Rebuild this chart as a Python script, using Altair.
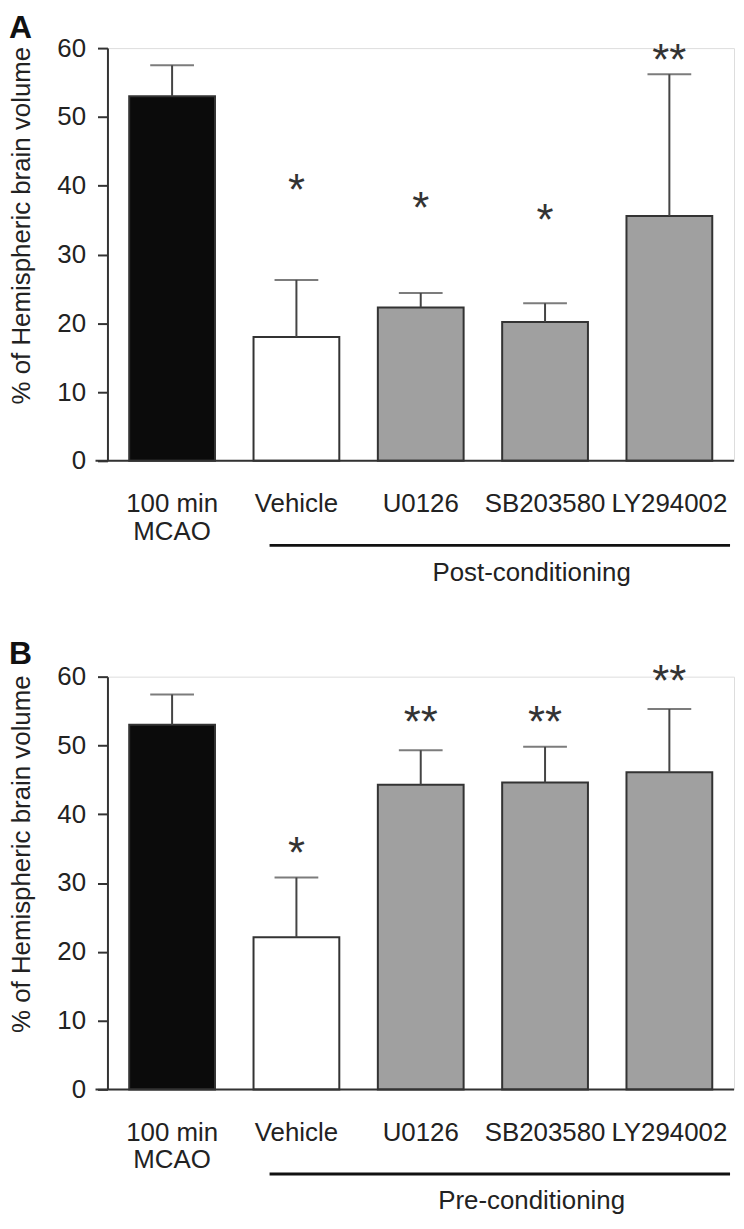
import altair as alt
import pandas as pd

categories = ["100 min MCAO", "Vehicle", "U0126", "SB203580", "LY294002"]
fills = ["#0b0b0b", "#ffffff", "#a0a0a0", "#a0a0a0", "#a0a0a0"]
y_ticks = [0, 10, 20, 30, 40, 50, 60]

# Panel A: post-conditioning
post_mean = [53.0, 18.0, 22.3, 20.2, 35.6]
post_upper = [57.5, 26.3, 24.4, 22.9, 56.2]
post_stars = ["", "*", "*", "*", "**"]
post_star_y = [None, 40.8, 38.2, 36.5, 59.7]

# Panel B: pre-conditioning
pre_mean = [53.0, 22.1, 44.3, 44.6, 46.1]
pre_upper = [57.4, 30.8, 49.3, 49.8, 55.3]
pre_stars = ["", "*", "**", "**", "**"]
pre_star_y = [None, 35.8, 54.8, 54.8, 60.8]

FONT = "Liberation Sans, Arial, Helvetica, sans-serif"
W, H = 630, 415


def panel(letter, means, uppers, stars, star_y, group_name):
    df = pd.DataFrame({
        "cat": categories, "mean": means, "upper": uppers,
        "fill": fills, "star": stars, "star_y": star_y,
    })
    x = alt.X(
        "cat:N", sort=categories,
        scale=alt.Scale(paddingInner=0.31, paddingOuter=0.175),
        axis=alt.Axis(
            title=group_name, labelAngle=0, ticks=False, domain=False,
            labelFontSize=26, labelFont=FONT, labelColor="#222",
            labelExpr="datum.value == '100 min MCAO' ? ['100 min', 'MCAO'] : datum.label",
            labelBaseline="middle", labelPadding=43, labelLineHeight=28,
            labelOverlap=False,
            titleX=426, titleY=120, titleAlign="center", titleBaseline="alphabetic",
            titleFontSize=26, titleFontWeight="normal", titleFont=FONT, titleColor="#222",
        ),
    )
    y = alt.Y(
        "mean:Q", scale=alt.Scale(domain=[0, 60]),
        axis=alt.Axis(
            values=y_ticks, tickSize=10, tickWidth=2, tickColor="#333",
            domainWidth=2, domainColor="#333", grid=False,
            labelFontSize=26, labelFont=FONT, labelColor="#222", labelPadding=12,
            title="% of Hemispheric brain volume", titleFontSize=26,
            titleFontWeight="normal", titleFont=FONT, titleColor="#222",
            titlePadding=22, titleY=178, titleAlign="center",
        ),
    )
    base = alt.Chart(df)
    err = base.mark_rule(color="#444", strokeWidth=2).encode(
        x=alt.X("cat:N", sort=categories), y="mean:Q", y2="upper:Q")
    bars = base.mark_bar(stroke="#333", strokeWidth=2).encode(
        x=x, y=y, fill=alt.Fill("fill:N", scale=None))
    cap = base.mark_tick(color="#444", thickness=2, size=44).encode(
        x=alt.X("cat:N", sort=categories), y="upper:Q")
    star_txt = base.transform_filter("datum.star != ''").mark_text(
        fontSize=44, font=FONT, color="#333", baseline="alphabetic", dy=25
    ).encode(x=alt.X("cat:N", sort=categories), y="star_y:Q", text="star:N")
    one = alt.Chart(pd.DataFrame({"k": [0]}))
    xline = one.mark_rule(color="#333", strokeWidth=2).encode(
        x=alt.value(-12), x2=alt.value(W), y=alt.value(H))
    gline = one.mark_rule(color="#111", strokeWidth=3).encode(
        x=alt.value(163), x2=alt.value(626), y=alt.value(500))
    return alt.layer(bars, err, cap, star_txt, xline, gline).properties(
        width=W, height=H,
        title=alt.TitleParams(letter, anchor="start", frame="bounds", fontSize=32,
                              fontWeight="bold", font=FONT, color="#111", offset=-10),
    )


pa = panel("A", post_mean, post_upper, post_stars, post_star_y, "Post-conditioning")
pb = panel("B", pre_mean, pre_upper, pre_stars, pre_star_y, "Pre-conditioning")

chart = alt.vconcat(pa, pb, spacing=51).configure_view(stroke=None).configure(
    padding={"left": 0, "top": 0, "right": 0, "bottom": 0})

chart.save("out.html", embed_options={"renderer": "svg", "actions": False})
